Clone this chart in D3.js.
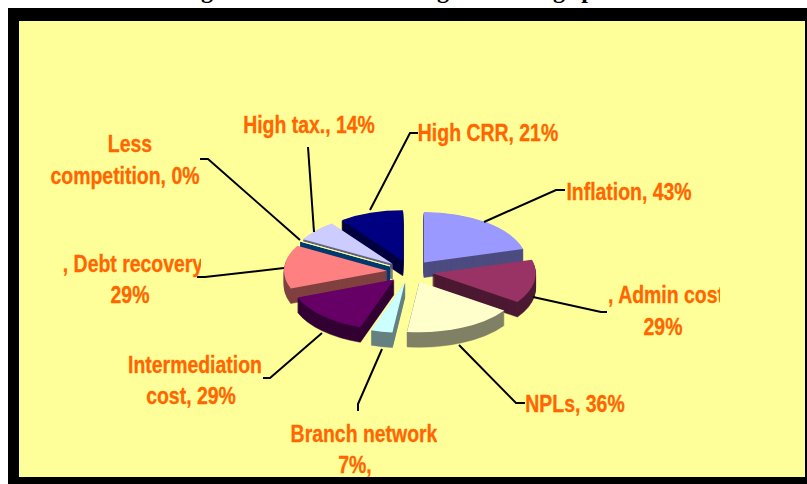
<!DOCTYPE html>
<html>
<head>
<meta charset="utf-8">
<script src="https://d3js.org/d3.v7.min.js"></script>
<style>
  html, body { margin: 0; padding: 0; background: #fff; overflow: hidden; }
  svg { display: block; }
  .lbl { font-family: "Liberation Sans", Arial, sans-serif; font-weight: bold; font-size: 23px; fill: #ff6600; stroke: #ff6600; stroke-width: 0.3px; }
  .ttl { font-family: "Liberation Serif", serif; font-weight: bold; font-size: 24px; fill: #000; }
</style>
</head>
<body>
<script>
// chart values, clockwise from twelve o'clock
var categories = ['Inflation', 'Admin cost', 'NPLs', 'Branch network', 'Intermediation cost', 'Debt recovery', 'Less competition', 'High tax.', 'High CRR']
var values = [43, 29, 36, 7, 29, 29, 0, 14, 21]
var topColors = ['#9999ff', '#993366', '#ffffcc', '#ccffff', '#660066', '#ff8080', '#0066cc', '#ccccff', '#000080']
var sideColors = ['#4d4d80', '#4d1a33', '#808066', '#668080', '#330033', '#804040', '#003a70', '#666680', '#000040']

// what is left of the title, only the descenders show above the frame
var titleBits = [['g', 207], ['g', 443], ['g', 559], ['p', 588]]

// label lines: [text, x, baseline], anchored in the middle
var labelLines = [
  [['Inflation, 43%', 629, 200]],
  [[', Admin cost', 666, 303], ['29%', 663, 335]],
  [['NPLs, 36%', 575, 412]],
  [['Branch network', 364, 442], ['7%,', 355, 473]],
  [['Intermediation', 195, 373], ['cost, 29%', 191, 404]],
  [[', Debt recovery', 133, 272], ['29%', 130, 303]],
  [['Less', 130, 152], ['competition, 0%', 125, 184]],
  [['High tax., 14%', 309, 133]],
  [['High CRR, 21%', 488, 141]]
]

// clip right edge for labels that get cut off in the picture
var labelClip = [null, 720, null, 437, null, 201, null, null, null]

var leaders = [
  [[484, 222], [556, 190], [565, 190]],
  [[533, 297], [601, 312], [607, 312]],
  [[459, 345], [516, 403], [525, 403]],
  [[382, 349], [358, 404], [358, 411]],
  [[322, 333], [270, 378], [263, 378]],
  [[284, 268], [205, 277], [197, 277]],
  [[300, 240], [208, 159], [200, 159]],
  [[314, 232], [308, 147]],
  [[370, 210], [410, 133], [418, 133]]
]

var w = 807
  , h = 484
  , cx = 410
  , cy = 271.5
  , r = 103
  , tilt = 0.49
  , depth = 15
  , explode = 23
  , squeeze = 0.845

var svg = d3.select('body').append('svg').attr('width', w).attr('height', h)

svg.selectAll('.ttl').data(titleBits)
  .enter().append('text')
  .attr('class', 'ttl')
  .attr('x', function (d) { return d[1] })
  .attr('y', -2)
  .attr('text-anchor', 'middle')
  .text(function (d) { return d[0] })

svg.append('rect').attr('x', 8).attr('y', 8).attr('width', w - 8).attr('height', h - 8).attr('fill', '#000')
svg.append('rect').attr('x', 19).attr('y', 21).attr('width', 786).attr('height', 456).attr('fill', '#ffff99')

var pie = d3.pie().sort(null).value(function (d) { return d.value })
var arc = d3.arc().innerRadius(0).outerRadius(r)

var slices = pie(categories.map(function (c, i) { return { name: c, value: values[i], i: i } }))

// paint far slices first, the near ones cover them
var ordered = slices.slice().sort(function (a, b) {
  return Math.cos(midAngle(b)) - Math.cos(midAngle(a))
})

var pieG = svg.append('g').attr('transform', 'translate(' + cx + ',' + cy + ')')

var sliceG = pieG.selectAll('.slice').data(ordered)
  .enter().append('g')
  .attr('class', 'slice')
  .attr('transform', function (d) {
    var p = d3.pointRadial(midAngle(d), explode)
    return 'translate(' + p[0] + ',' + p[1] * tilt + ')'
  })

// side walls, stacked copies going up to the top face
sliceG.each(function (d) {
  var g = d3.select(this)
  d3.range(depth, 0, -1).forEach(function (k) {
    g.append('path')
      .attr('transform', 'translate(0,' + k + ') scale(1,' + tilt + ')')
      .attr('d', arc(d))
      .attr('fill', sideColors[d.data.i])
      .attr('stroke', sideColors[d.data.i])
      .attr('stroke-width', d.value === 0 ? 2 : 0.5)
      .attr('vector-effect', 'non-scaling-stroke')
  })
  g.append('path')
    .attr('transform', 'scale(1,' + tilt + ')')
    .attr('d', arc(d))
    .attr('fill', topColors[d.data.i])
    .attr('stroke', d.value === 0 ? '#ffff99' : 'none')
    .attr('stroke-width', 1)
    .attr('vector-effect', 'non-scaling-stroke')
})

var line = d3.line()
svg.selectAll('.leader').data(leaders)
  .enter().append('path')
  .attr('class', 'leader')
  .attr('d', line)
  .attr('fill', 'none')
  .attr('stroke', '#000')
  .attr('stroke-width', 2)

var defs = svg.append('defs')
labelClip.forEach(function (x, i) {
  if (x == null) return
  defs.append('clipPath').attr('id', 'clip' + i)
    .append('rect').attr('x', 0).attr('y', 0).attr('width', x).attr('height', h)
})

var labels = svg.selectAll('.labels').data(labelLines)
  .enter().append('g')
  .attr('class', 'labels')
  .attr('clip-path', function (d, i) { return labelClip[i] == null ? null : 'url(#clip' + i + ')' })

labels.selectAll('text').data(function (d) { return d })
  .enter().append('text')
  .attr('class', 'lbl')
  .attr('transform', function (d) { return 'translate(' + d[1] + ',' + d[2] + ') scale(' + squeeze + ',1)' })
  .attr('text-anchor', 'middle')
  .text(function (d) { return d[0] })

function midAngle (d) {
  return (d.startAngle + d.endAngle) / 2
}
</script>
</body>
</html>
